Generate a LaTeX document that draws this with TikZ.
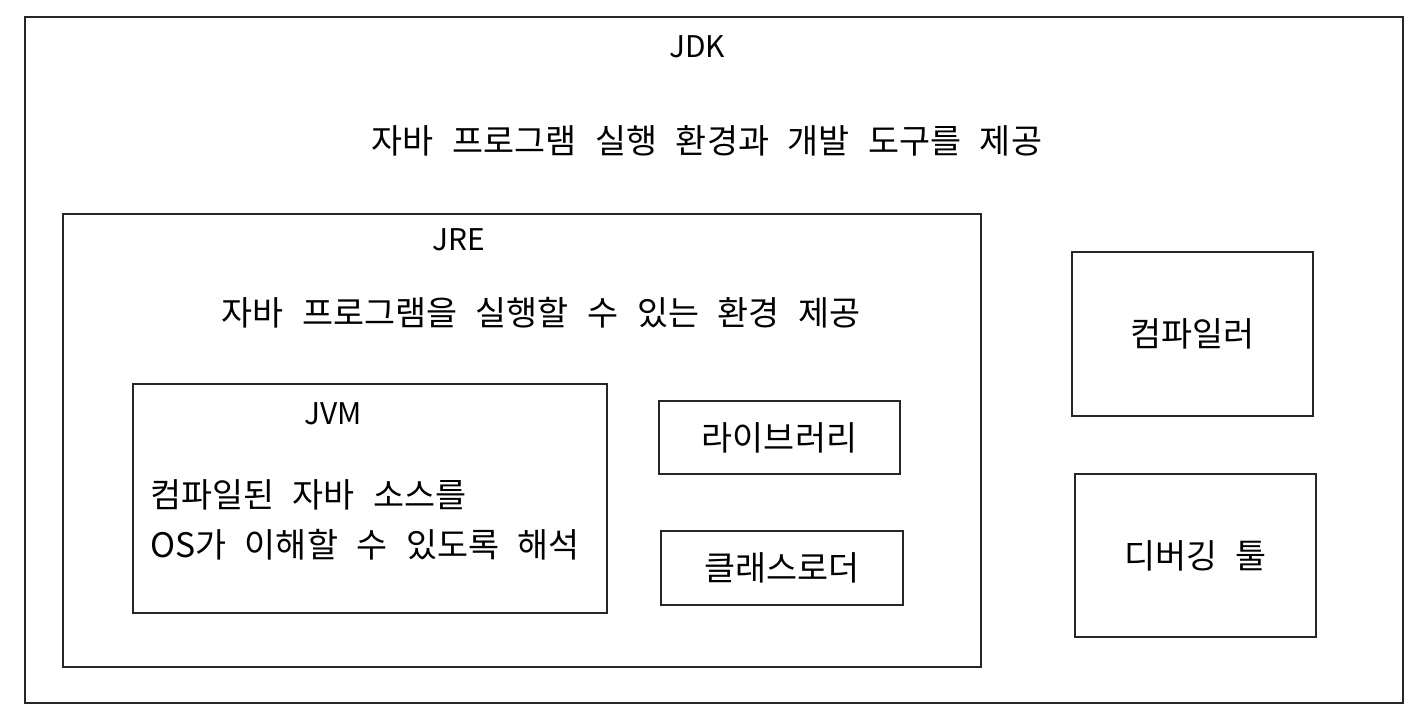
\documentclass[tikz,border=0pt]{standalone}
\usepackage{fontspec}
\setmainfont{Noto Sans CJK KR}
\newcommand\diagfont{\fontsize{19.2}{28.5}\selectfont\spaceskip=0.55em\relax}
\begin{document}
\begin{tikzpicture}[
    x=0.2mm, y=-0.2mm,
    every node/.style={font=\diagfont},
    box/.style={draw=black!85, line width=1.1pt, inner sep=0pt},
    title/.style={font=\fontsize{17}{20}\selectfont}
]
\useasboundingbox (0,0) rectangle (1426,708);

% JDK
\node[box, minimum width=1378*0.2mm, minimum height=686*0.2mm] (jdk) at (714,360) {};
\node[title] (jdklabel) at (697,47) {JDK};
\node (jdktext) at (707,141) {자바 프로그램 실행 환경과 개발 도구를 제공};

% JRE
\node[box, minimum width=918*0.2mm, minimum height=453*0.2mm] (jre) at (522,440.5) {};
\node[title] (jrelabel) at (459,240) {JRE};
\node (jretext) at (541,313) {자바 프로그램을 실행할 수 있는 환경 제공};

% JVM
\node[box, minimum width=474*0.2mm, minimum height=229*0.2mm] (jvm) at (370,498.5) {};
\node[title] (jvmlabel) at (333,414) {JVM};
\node[align=left, anchor=west] (jvmtext) at (144,520) {컴파일된 자바 소스를\\OS가 이해할 수 있도록 해석};

% JRE parts
\node[box, minimum width=241*0.2mm, minimum height=73*0.2mm] (lib) at (779.5,437.5) {라이브러리};
\node[box, minimum width=242*0.2mm, minimum height=74*0.2mm] (loader) at (782,568) {클래스로더};

% JDK tools
\node[box, minimum width=241*0.2mm, minimum height=164*0.2mm] (compiler) at (1192.5,334) {컴파일러};
\node[box, minimum width=241*0.2mm, minimum height=163*0.2mm] (debugger) at (1195.5,555.5) {디버깅 툴};
\end{tikzpicture}
\end{document}
